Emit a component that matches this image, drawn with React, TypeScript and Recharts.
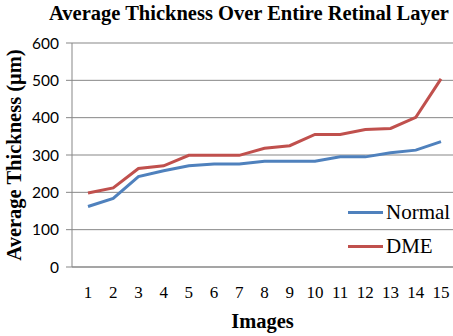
import React from 'react';
import { LineChart, Line, XAxis, YAxis, CartesianGrid, Legend, Label } from 'recharts';

const images = ['1', '2', '3', '4', '5', '6', '7', '8', '9', '10', '11', '12', '13', '14', '15'];
const normal = [162, 184, 242, 258, 271, 276, 276, 283, 283, 283, 295, 295, 306, 313, 336];
const dme = [198, 212, 264, 271, 299, 299, 299, 318, 325, 355, 355, 368, 371, 401, 504];
const yTicks = [0, 100, 200, 300, 400, 500, 600];
const seriesOrder = ['normal', 'dme'];

const BLUE = '#4f81bd';
const RED = '#c0504d';
const GRID = '#878787';
const SERIF = '"Liberation Serif", "Times New Roman", serif';

const data = images.map((img, i) => ({ img, normal: normal[i], dme: dme[i] }));

// legend sits inside the plot, lower right, in series order
const LegendBox = (props: any) => {
  const items = [...(props.payload || [])].sort(
    (a: any, b: any) => seriesOrder.indexOf(a.dataKey) - seriesOrder.indexOf(b.dataKey)
  );
  return (
    <div style={{ fontFamily: SERIF, fontSize: 21, color: '#000' }}>
      {items.map((item: any) => (
        <div key={item.value} style={{ display: 'flex', alignItems: 'center', height: 34 }}>
          <span style={{ display: 'inline-block', width: 35, height: 3, background: item.color, marginRight: 3 }} />
          <span>{item.value}</span>
        </div>
      ))}
    </div>
  );
};

export default function App() {
  return (
    <div style={{ position: 'absolute', left: 0, top: 0, width: 453, height: 336, background: '#fff' }}>
      <div
        style={{
          position: 'absolute',
          left: 0,
          top: 2,
          width: 498,
          textAlign: 'center',
          fontFamily: SERIF,
          fontWeight: 'bold',
          fontSize: 20.5,
          color: '#000',
          zIndex: 2,
        }}
      >
        Average Thickness Over Entire Retinal Layer
      </div>
      <LineChart width={453} height={336} data={data} margin={{ top: 43, right: 0, bottom: 0, left: 0 }}>
        <CartesianGrid vertical={false} stroke={GRID} strokeWidth={1} />
        <XAxis
          dataKey="img"
          height={69}
          padding={{ left: 16, right: 12 }}
          axisLine={{ stroke: GRID }}
          tickLine={false}
          tickSize={0}
          tickMargin={19}
          interval={0}
          tick={{ fill: '#000', fontFamily: SERIF, fontSize: 17 }}
        >
          <Label
            value="Images"
            position="insideBottom"
            offset={8}
            style={{ fill: '#000', fontFamily: SERIF, fontWeight: 'bold', fontSize: 20.5 }}
          />
        </XAxis>
        <YAxis
          width={72}
          domain={[0, 600]}
          ticks={yTicks}
          axisLine={{ stroke: GRID }}
          tickLine={{ stroke: GRID }}
          tickSize={6}
          tickMargin={7}
          tick={{ fill: '#000', fontFamily: 'Lato, "Liberation Sans", sans-serif', fontSize: 15.5 }}
        >
          <Label
            value="Average Thickness (μm)"
            angle={-90}
            position="insideLeft"
            offset={14}
            style={{ fill: '#000', fontFamily: SERIF, fontWeight: 'bold', fontSize: 20.5, textAnchor: 'middle' }}
          />
        </YAxis>
        <Legend
          layout="horizontal"
          align="center"
          verticalAlign="middle"
          content={<LegendBox />}
          wrapperStyle={{ left: 348, top: 195, width: 105 }}
        />
        <Line dataKey="normal" name="Normal" stroke={BLUE} strokeWidth={3} dot={false} isAnimationActive={false} />
        <Line dataKey="dme" name="DME" stroke={RED} strokeWidth={3} dot={false} isAnimationActive={false} />
      </LineChart>
    </div>
  );
}
